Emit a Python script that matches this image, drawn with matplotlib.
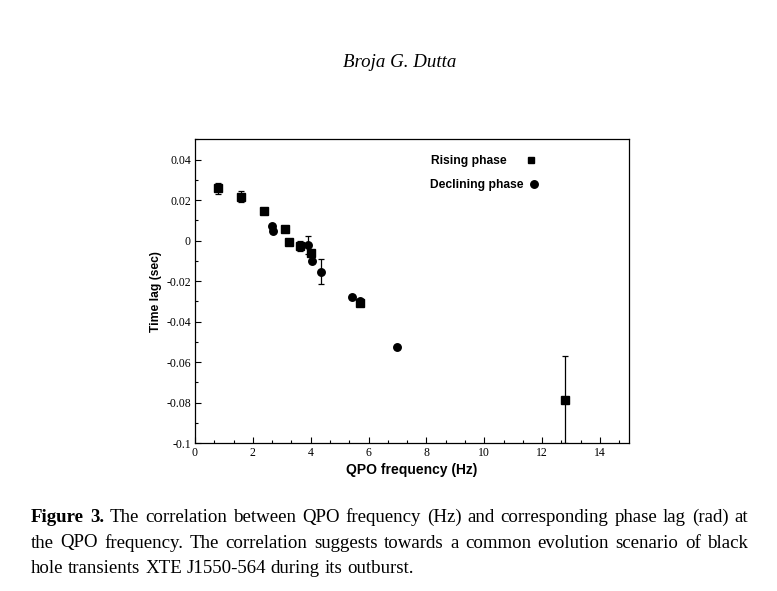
"""
QPO frequency vs time lag (XTE J1550-564), figure 3 page layout
"""
import matplotlib
matplotlib.use('Agg')
import matplotlib.pyplot as plt
from matplotlib.ticker import MultipleLocator
from matplotlib.lines import Line2D

# ── data ─────────────────────────────────────────────────────────────
rise_freq = [0.81, 1.60, 2.39, 3.12, 3.26, 3.64, 4.01, 5.69, 12.78]
rise_lag = [0.0257, 0.0217, 0.0148, 0.0059, -0.0007, -0.0025, -0.0064, -0.0310, -0.0786]
rise_err = [0.0029, 0.0029, 0.0012, 0.0010, 0.0010, 0.0025, 0.0010, 0.0010, 0.0214]

decl_freq = [2.66, 2.68, 3.91, 4.05, 4.35, 5.42, 5.69, 6.98]
decl_lag = [0.0071, 0.0046, -0.0023, -0.0099, -0.0153, -0.0278, -0.0300, -0.0527]
decl_err = [0.0010, 0.0010, 0.0045, 0.0010, 0.0064, 0.0010, 0.0010, 0.0010]

title_text = 'Broja G. Dutta'
caption_lines = [
    [('Figure', 'bold'), ('3.', 'bold'), ('The', 'normal'), ('correlation', 'normal'),
     ('between', 'normal'), ('QPO', 'normal'), ('frequency', 'normal'), ('(Hz)', 'normal'),
     ('and', 'normal'), ('corresponding', 'normal'), ('phase', 'normal'), ('lag', 'normal'),
     ('(rad)', 'normal'), ('at', 'normal')],
    [(w, 'normal') for w in 'the QPO frequency.  The correlation suggests towards a common '
                             'evolution scenario of black'.split()],
    [(w, 'normal') for w in 'hole transients XTE J1550-564 during its outburst.'.split()],
]

W, H = 777, 591
SERIF = 'Liberation Serif'
SANS = 'Liberation Sans'

fig = plt.figure(figsize=(W / 100, H / 100), dpi=100)
fig.patch.set_facecolor('white')

ax = fig.add_axes([195 / W, 1 - 443 / H, 434 / W, 303.7 / H])

ekw = dict(color='black', ecolor='black', elinewidth=0.9, capsize=2.2, capthick=0.9,
           linestyle='none', zorder=3)
ax.errorbar(rise_freq, rise_lag, yerr=rise_err, marker='s', markersize=5.2, **ekw)
ax.errorbar(decl_freq, decl_lag, yerr=decl_err, marker='o', markersize=5.4, **ekw)

ax.set_xlim(0, 15)
ax.set_ylim(-0.1, 0.05)
ax.xaxis.set_minor_locator(MultipleLocator(2 / 3))
ax.yaxis.set_minor_locator(MultipleLocator(0.01))
ax.set_xticks([0, 2, 4, 6, 8, 10, 12, 14])
ax.set_yticks([-0.1, -0.08, -0.06, -0.04, -0.02, 0, 0.02, 0.04])
ax.set_yticklabels(['-0.1', '-0.08', '-0.06', '-0.04', '-0.02', '0', '0.02', '0.04'])
ax.tick_params(which='both', direction='in', top=False, right=False, width=0.8)
ax.tick_params(which='major', length=4.5, labelsize=8.5, pad=3)
ax.tick_params(which='minor', length=2.5)
for lab in ax.get_xticklabels() + ax.get_yticklabels():
    lab.set_family(SERIF)
for sp in ax.spines.values():
    sp.set_linewidth(0.9)

ax.set_xlabel('QPO frequency (Hz)', family=SANS, fontweight='bold', fontsize=10, labelpad=3)
ax.set_ylabel('Time lag (sec)', family=SANS, fontweight='bold', fontsize=8.7, labelpad=3)

# legend: one row per phase, text first then marker
legend_prop = {'family': SANS, 'weight': 'bold', 'size': 8.7}
leg1 = ax.legend([Line2D([], [], color='black', marker='s', linestyle='none', markersize=5)],
                 ['Rising phase'], frameon=False, markerfirst=False, loc='center left',
                 bbox_to_anchor=(0.544, 0.9285), borderpad=0, borderaxespad=0,
                 prop=legend_prop, handlelength=0.6, handletextpad=1.75)
ax.add_artist(leg1)
ax.legend([Line2D([], [], color='black', marker='o', linestyle='none', markersize=5.4)],
          ['Declining phase'], frameon=False, markerfirst=False, loc='center left',
          bbox_to_anchor=(0.542, 0.8495), borderpad=0, borderaxespad=0,
          prop=legend_prop, handlelength=0.6, handletextpad=0.55)

# ── page text ────────────────────────────────────────────────────────
fig.text(400 / W, 1 - 67 / H, title_text, family=SERIF, style='italic', fontsize=13.6,
         ha='center', va='baseline')

renderer = fig.canvas.get_renderer()


def place_line(words, y_px, x0, x1, justify=True):
    items = []
    for word, weight in words:
        t = fig.text(0, 1 - y_px / H, word, family=SERIF, fontweight=weight,
                     fontsize=13.6, va='baseline', ha='left')
        items.append((t, t.get_window_extent(renderer).width))
    total = sum(w for _, w in items)
    gap = (x1 - x0 - total) / (len(items) - 1) if justify else 4.7
    x = x0
    for t, w in items:
        t.set_x(x / W)
        x += w + gap


place_line(caption_lines[0], 522, 31, 748)
place_line(caption_lines[1], 547.5, 31, 748)
place_line(caption_lines[2], 573, 31, 748, justify=False)

fig.savefig('out.png', dpi=100, facecolor='white')
